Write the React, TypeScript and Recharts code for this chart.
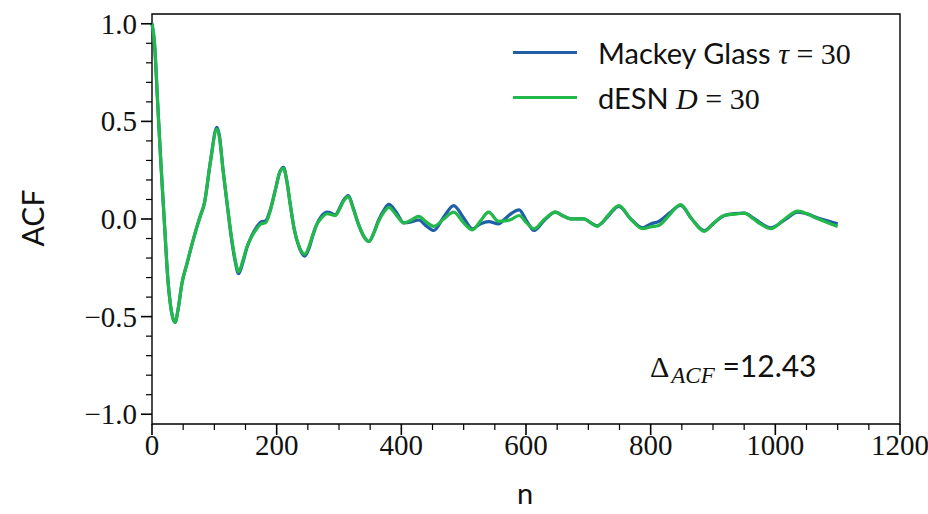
import React from 'react';
import { Legend, Line, LineChart, ReferenceArea, XAxis, YAxis } from 'recharts';

// lag index n at turning points and in between
const lagN = [
  0, 4, 9, 14, 19, 26, 31, 37, 42, 48,
  56, 65, 73, 78, 84, 94, 104, 108, 114, 120,
  127, 133, 139, 146, 152, 160, 168, 175, 182, 190,
  198, 205, 211, 216, 222, 228, 236, 245, 252, 258,
  264, 272, 281, 288, 294, 300, 307, 315, 323, 331,
  340, 348, 356, 363, 372, 380, 392, 404, 416, 428,
  440, 452, 468, 484, 500, 514, 527, 540, 556, 566,
  575, 589, 601, 613, 630, 647, 660, 672, 693, 704,
  714, 720, 732, 749, 768, 787, 800, 813, 830, 848,
  866, 886, 900, 918, 935, 950, 965, 976, 993, 1015,
  1036, 1052, 1068, 1085, 1100,
];

// Mackey Glass tau = 30
const mackeyAcf = [
  1.0, 0.9, 0.6, 0.3, 0.03, -0.33, -0.47, -0.53, -0.46, -0.33,
  -0.23, -0.12, -0.03, 0.02, 0.08, 0.3, 0.47, 0.43, 0.25, 0.09,
  -0.09, -0.21, -0.28, -0.22, -0.15, -0.085, -0.04, -0.015, -0.01, 0.05,
  0.15, 0.24, 0.265, 0.2, 0.07, -0.05, -0.145, -0.19, -0.15, -0.085,
  -0.03, 0.015, 0.035, 0.03, 0.02, 0.05, 0.095, 0.12, 0.055, -0.025,
  -0.09, -0.115, -0.07, -0.01, 0.045, 0.075, 0.035, -0.02, -0.015, -0.005,
  -0.035, -0.059, 0.01, 0.069, 0.005, -0.05, -0.025, -0.013, -0.025, 0.0,
  0.025, 0.047, -0.01, -0.059, -0.005, 0.035, 0.015, 0.001, 0.001, -0.02,
  -0.035, -0.025, 0.015, 0.065, 0.0, -0.045, -0.025, -0.013, 0.03, 0.07,
  0.0, -0.06, -0.025, 0.018, 0.028, 0.03, 0.005, -0.02, -0.045, -0.005,
  0.035, 0.025, 0.005, -0.01, -0.025,
];

// dESN D = 30
const desnAcf = [
  1.0, 0.9, 0.6, 0.3, 0.03, -0.33, -0.47, -0.53, -0.46, -0.33,
  -0.23, -0.12, -0.03, 0.02, 0.08, 0.3, 0.46, 0.42, 0.25, 0.095,
  -0.08, -0.2, -0.27, -0.21, -0.145, -0.09, -0.05, -0.025, -0.02, 0.045,
  0.15, 0.24, 0.26, 0.2, 0.07, -0.05, -0.14, -0.18, -0.14, -0.08,
  -0.03, 0.005, 0.027, 0.022, 0.018, 0.045, 0.09, 0.115, 0.05, -0.025,
  -0.09, -0.115, -0.07, -0.016, 0.035, 0.06, 0.02, -0.02, -0.005, 0.013,
  -0.015, -0.038, 0.0, 0.035, -0.02, -0.056, -0.01, 0.035, -0.012, -0.01,
  -0.004, 0.018, -0.02, -0.05, 0.0, 0.035, 0.015, 0.001, 0.001, -0.02,
  -0.038, -0.025, 0.02, 0.069, 0.0, -0.05, -0.04, -0.033, 0.02, 0.074,
  0.0, -0.063, -0.025, 0.018, 0.025, 0.03, 0.0, -0.025, -0.05, 0.0,
  0.04, 0.025, 0.001, -0.02, -0.038,
];

const xTicks = [
  0, 50, 100, 150, 200, 250, 300, 350, 400, 450, 500, 550, 600,
  650, 700, 750, 800, 850, 900, 950, 1000, 1050, 1100, 1150, 1200,
];
const yTicks = [
  -1.0, -0.9, -0.8, -0.7, -0.6, -0.5, -0.4, -0.3, -0.2, -0.1, 0.0,
  0.1, 0.2, 0.3, 0.4, 0.5, 0.6, 0.7, 0.8, 0.9, 1.0,
];
const deltaAcf = '12.43';

const MG_COLOR = '#1f5fa8';
const ESN_COLOR = '#22b84a';
const SERIF = '"Liberation Serif", "DejaVu Serif", serif';
const SANS = 'Lato, "DejaVu Sans", sans-serif';

const data = lagN.map((n, i) => ({ n, mackey: mackeyAcf[i], desn: desnAcf[i] }));

function isMajor(v: number, step: number): boolean {
  const q = v / step;
  return Math.abs(q - Math.round(q)) < 1e-6;
}

function fmtY(v: number): string {
  const s = v.toFixed(1);
  return s.startsWith('-') ? '\u2212' + s.slice(1) : s;
}

function XTick(props: any) {
  const { x, y, payload } = props;
  const major = isMajor(payload.value, 200);
  return (
    <g>
      <line x1={x} x2={x} y1={y} y2={y + (major ? 11 : 6)} stroke="#000" strokeWidth={major ? 1.6 : 1.2} />
      {major && (
        <text x={x} y={y + 31} textAnchor="middle" fontFamily={SERIF} fontSize={29} fill="#111">
          {payload.value}
        </text>
      )}
    </g>
  );
}

function YTick(props: any) {
  const { x, y, payload } = props;
  const major = isMajor(payload.value, 0.5);
  return (
    <g>
      <line x1={x - (major ? 11 : 6)} x2={x} y1={y} y2={y} stroke="#000" strokeWidth={major ? 1.6 : 1.2} />
      {major && (
        <text x={x - 15} y={y + 10} textAnchor="end" fontFamily={SERIF} fontSize={29} fill="#111">
          {fmtY(payload.value)}
        </text>
      )}
    </g>
  );
}

function LegendBox() {
  const rows = [
    { color: MG_COLOR, name: 'Mackey Glass', sym: '\u03c4' },
    { color: ESN_COLOR, name: 'dESN', sym: 'D' },
  ];
  return (
    <div>
      {rows.map((r) => (
        <div key={r.name} style={{ display: 'flex', alignItems: 'center', height: 45 }}>
          <span style={{ display: 'inline-block', width: 64, height: 3, background: r.color, marginRight: 21 }} />
          <span style={{ fontFamily: SANS, fontSize: 29, color: '#111', whiteSpace: 'nowrap' }}>
            {r.name}{' '}
            <span style={{ fontFamily: SERIF, fontStyle: 'italic', fontSize: 30 }}>{r.sym}</span>
            <span style={{ fontFamily: SERIF, fontSize: 30 }}>{' = 30'}</span>
          </span>
        </div>
      ))}
    </div>
  );
}

export default function App() {
  return (
    <div style={{ position: 'absolute', left: 0, top: 0, width: 928, height: 514, background: '#fff', overflow: 'hidden' }}>
      <LineChart width={928} height={514} data={data} margin={{ top: 14, right: 28, bottom: 30, left: 0 }}>
        <XAxis
          dataKey="n"
          type="number"
          domain={[0, 1200]}
          ticks={xTicks}
          interval={0}
          tick={<XTick />}
          tickLine={false}
          tickSize={0}
          tickMargin={0}
          axisLine={false}
          height={60}
        />
        <YAxis
          type="number"
          domain={[-1.05, 1.05]}
          ticks={yTicks}
          interval={0}
          tick={<YTick />}
          tickLine={false}
          tickSize={0}
          tickMargin={0}
          axisLine={false}
          width={152}
        />
        <ReferenceArea x1={0} x2={1200} y1={-1.05} y2={1.05} fill="none" stroke="#000" strokeWidth={1.4} />
        <Line
          dataKey="mackey"
          name="Mackey Glass"
          type="monotone"
          stroke={MG_COLOR}
          strokeWidth={3.2}
          dot={false}
          isAnimationActive={false}
        />
        <Line
          dataKey="desn"
          name="dESN"
          type="monotone"
          stroke={ESN_COLOR}
          strokeWidth={3.2}
          dot={false}
          isAnimationActive={false}
        />
        <Legend
          layout="vertical"
          align="center"
          verticalAlign="middle"
          content={<LegendBox />}
          wrapperStyle={{ left: 513, top: 30, width: 380, height: 90 }}
        />
      </LineChart>
      <div
        style={{
          position: 'absolute',
          left: 32,
          top: 218,
          transform: 'translate(-50%, -50%) rotate(-90deg)',
          fontFamily: SANS,
          fontSize: 30,
          lineHeight: '30px',
          color: '#111',
        }}
      >
        ACF
      </div>
      <div
        style={{
          position: 'absolute',
          left: 525,
          top: 478,
          transform: 'translateX(-50%)',
          fontFamily: SANS,
          fontSize: 29,
          lineHeight: '30px',
          color: '#111',
        }}
      >
        n
      </div>
      <div
        style={{
          position: 'absolute',
          left: 650,
          top: 347,
          fontSize: 30,
          lineHeight: '36px',
          color: '#111',
          whiteSpace: 'nowrap',
        }}
      >
        <span style={{ fontFamily: SERIF }}>{'\u0394'}</span>
        <span style={{ fontFamily: SERIF, fontStyle: 'italic', fontSize: 23, position: 'relative', top: 6, marginLeft: 2 }}>ACF</span>
        <span style={{ fontFamily: SANS }}>{' =' + deltaAcf}</span>
      </div>
    </div>
  );
}
